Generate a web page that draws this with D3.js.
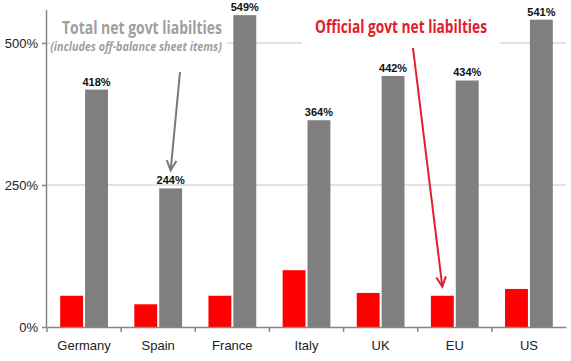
<!DOCTYPE html>
<html>
<head>
<meta charset="utf-8">
<script src="https://cdn.jsdelivr.net/npm/d3@7.9.0/dist/d3.min.js"></script>
<style>
  body { margin: 0; background: #fff; }
  svg { display: block; font-family: "Liberation Sans", Arial, sans-serif; }
</style>
</head>
<body>
<svg id="chart" width="571" height="361"></svg>
<script>
// data (% of GDP)
const countries = ['Germany', 'Spain', 'France', 'Italy', 'UK', 'EU', 'US'];
const officialNet = [55, 40, 55, 100, 60, 55, 67];
const totalNet = [418, 244, 549, 364, 442, 434, 541];
const yTicks = [0, 250, 500];

const W = 571, H = 361;
const margin = { top: 43, right: 5, bottom: 34, left: 47 };

const svg = d3.select('#chart');

const x = d3.scaleBand().domain(countries).range([margin.left, W - margin.right]).padding(0);
const inner = d3.scaleBand().domain(['official', 'total'])
  .range([0, x.bandwidth()]).paddingInner(0.08).paddingOuter(0.53);
const y = d3.scaleLinear().domain([0, 500]).range([H - margin.bottom, margin.top]);

const RED = '#ff0000';
const GREY = '#7f7f7f';

// gridlines
svg.append('g')
  .selectAll('line')
  .data(yTicks.filter(d => d > 0))
  .join('line')
  .attr('x1', margin.left).attr('x2', W - margin.right)
  .attr('y1', d => y(d)).attr('y2', d => y(d))
  .attr('stroke', '#d9d9d9').attr('stroke-width', 1.5);

// white boxes behind the annotation titles (they hide the 500% gridline)
svg.append('rect').attr('x', 50).attr('y', 14).attr('width', 177).attr('height', 42).attr('fill', '#fff');
svg.append('rect').attr('x', 302).attr('y', 14).attr('width', 198).attr('height', 34).attr('fill', '#fff');

// bars
const groups = svg.append('g').selectAll('g')
  .data(countries)
  .join('g')
  .attr('transform', d => `translate(${x(d)},0)`);

groups.append('rect')
  .attr('x', inner('official'))
  .attr('width', inner.bandwidth())
  .attr('y', (d, i) => y(officialNet[i]))
  .attr('height', (d, i) => y(0) - y(officialNet[i]))
  .attr('fill', RED);

groups.append('rect')
  .attr('x', inner('total'))
  .attr('width', inner.bandwidth())
  .attr('y', (d, i) => y(totalNet[i]))
  .attr('height', (d, i) => y(0) - y(totalNet[i]))
  .attr('fill', GREY);

groups.append('text')
  .attr('x', inner('total') + inner.bandwidth() / 2)
  .attr('y', (d, i) => y(totalNet[i]) - 4)
  .attr('text-anchor', 'middle')
  .attr('font-size', 11)
  .attr('font-weight', 'bold')
  .attr('fill', '#111')
  .text((d, i) => totalNet[i] + '%');

// axes
const yAxis = svg.append('g')
  .attr('transform', `translate(${margin.left},0)`)
  .call(d3.axisLeft(y).tickValues(yTicks).tickFormat(d => d + '%').tickSize(5).tickPadding(4));
yAxis.select('.domain').attr('d', `M-0.5,${10}V${y(0)}`);

const xAxis = svg.append('g')
  .attr('transform', `translate(0,${y(0)})`)
  .call(d3.axisBottom(x).tickSize(0).tickPadding(14));
xAxis.selectAll('.tick').append('line')
  .attr('x1', -x.bandwidth() / 2).attr('x2', -x.bandwidth() / 2)
  .attr('y1', 0).attr('y2', 5);
xAxis.append('line')
  .attr('x1', W - margin.right).attr('x2', W - margin.right)
  .attr('y1', 0).attr('y2', 5);

svg.selectAll('.domain, .tick line').attr('stroke', '#868686').attr('stroke-width', 1.5);
svg.selectAll('.tick text').attr('font-size', 13).attr('fill', '#222')
  .attr('font-family', '"Liberation Sans", Arial, sans-serif');

// annotations: squeeze each text horizontally to the width seen in the picture
function note(text, cx, baseline, width, size, color, italic) {
  const t = svg.append('text')
    .attr('text-anchor', 'middle')
    .attr('font-family', '"Open Sans", sans-serif')
    .attr('font-weight', 'bold')
    .attr('font-style', italic ? 'italic' : 'normal')
    .attr('font-size', size)
    .attr('fill', color)
    .text(text);
  const natural = t.node().getComputedTextLength();
  t.attr('transform', `translate(${cx},${baseline}) scale(${width / natural},1)`);
}

note('Total net govt liabilties', 142, 34, 160, 18, '#a0a0a0', false);
note('(includes off-balance sheet items)', 136, 51, 172, 11.5, '#a0a0a0', true);
note('Official govt net liabilties', 401, 33, 172, 18, '#e0202e', false);

function arrow(x1, y1, x2, y2, color) {
  const a = Math.atan2(y2 - y1, x2 - x1);
  const len = 11, spread = 0.45;
  svg.append('line')
    .attr('x1', x1).attr('y1', y1).attr('x2', x2).attr('y2', y2)
    .attr('stroke', color).attr('stroke-width', 2);
  svg.append('path')
    .attr('d', `M${x2 - len * Math.cos(a - spread)},${y2 - len * Math.sin(a - spread)}L${x2},${y2}L${x2 - len * Math.cos(a + spread)},${y2 - len * Math.sin(a + spread)}`)
    .attr('fill', 'none').attr('stroke', color).attr('stroke-width', 2);
}

// grey arrow points at Spain's total bar label
const spainX = x('Spain') + inner('total') + inner.bandwidth() / 2;
arrow(180, 72, spainX, y(totalNet[1]) - 18, '#7a7a7a');

// red arrow points at the EU official bar
const euX = x('EU') + inner('official') + inner.bandwidth() / 2;
arrow(413, 48, euX, y(officialNet[5]) - 9, '#e0202e');
</script>
</body>
</html>
